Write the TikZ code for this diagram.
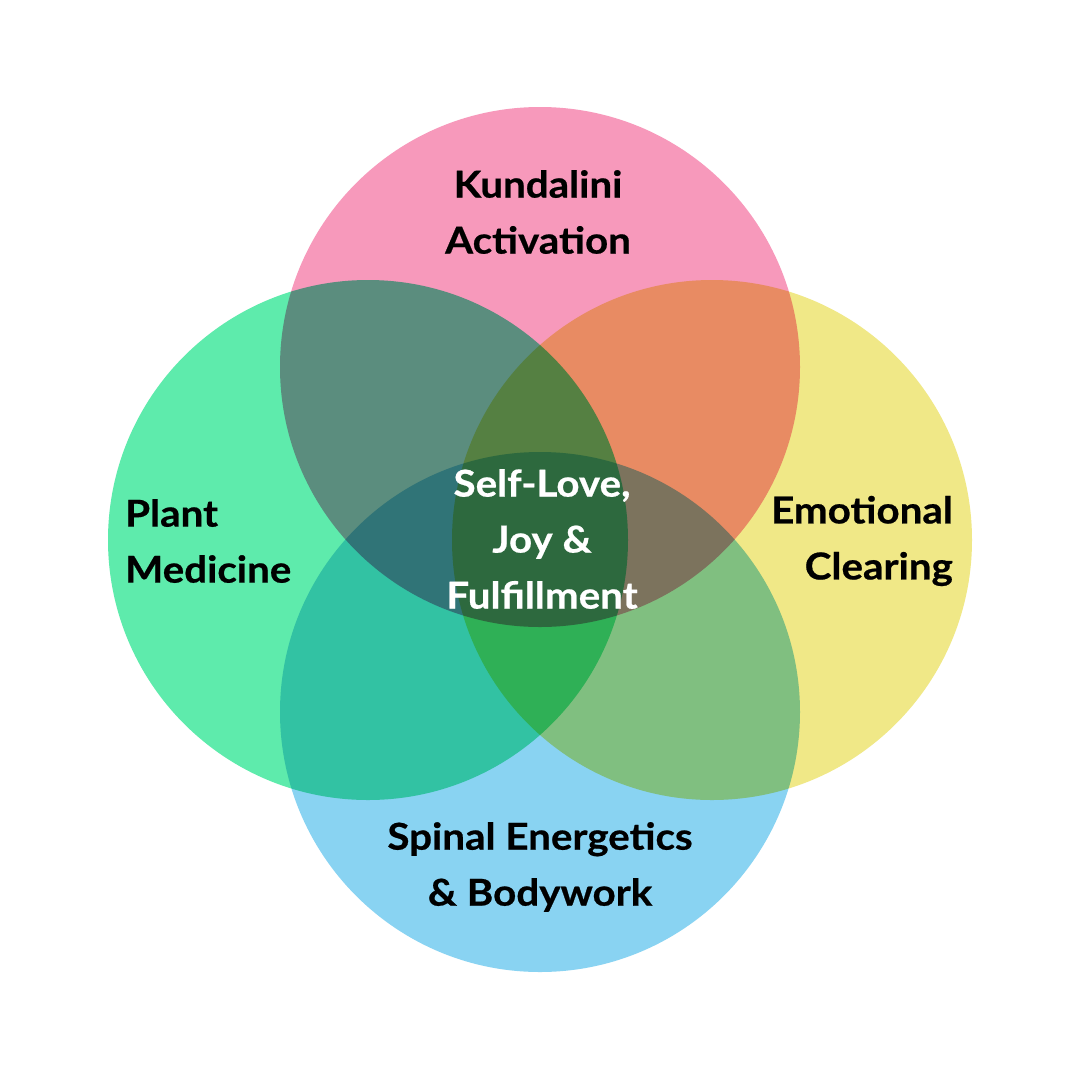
\documentclass[tikz,border=0pt]{standalone}
\usepackage{fontspec}
\setmainfont{Lato}[BoldFeatures={FakeStretch=1.09,FakeBold=0.6}]
\definecolor{pinkc}{HTML}{F799BB}
\definecolor{greenc}{HTML}{5EEBAC}
\definecolor{yellowc}{HTML}{F0E887}
\definecolor{bluec}{HTML}{89D3F2}
\tikzset{
  lbl/.style={font=\bfseries\fontsize{37}{56}\selectfont, inner sep=0pt, text=black},
  clbl/.style={lbl, text=white}
}
\begin{document}
\begin{tikzpicture}[x=1pt,y=-1pt]
\useasboundingbox[fill=white] (0,0) rectangle (1080,1080);
\begin{scope}[blend group=multiply]
  \fill[pinkc] (540,367) circle (260pt);
  \fill[greenc] (368,540) circle (260pt);
  \fill[yellowc] (712,540) circle (260pt);
  \fill[bluec] (540,712) circle (260pt);
\end{scope}
\node[lbl, align=center] (kund) at (538,212) {Kundalini\\Activation};
\node[lbl, align=left, anchor=west] (plant) at (125,541) {Plant\\Medicine};
\node[lbl, align=right, anchor=east] (emo) at (953,541) {Emotional\\Clearing};
\node[lbl, align=center] (spinal) at (540,867) {Spinal Energetics\\\& Bodywork};
\node[clbl, align=center] (self) at (542,539) {Self-Love,\\Joy \&\\Fulfillment};
\end{tikzpicture}
\end{document}
